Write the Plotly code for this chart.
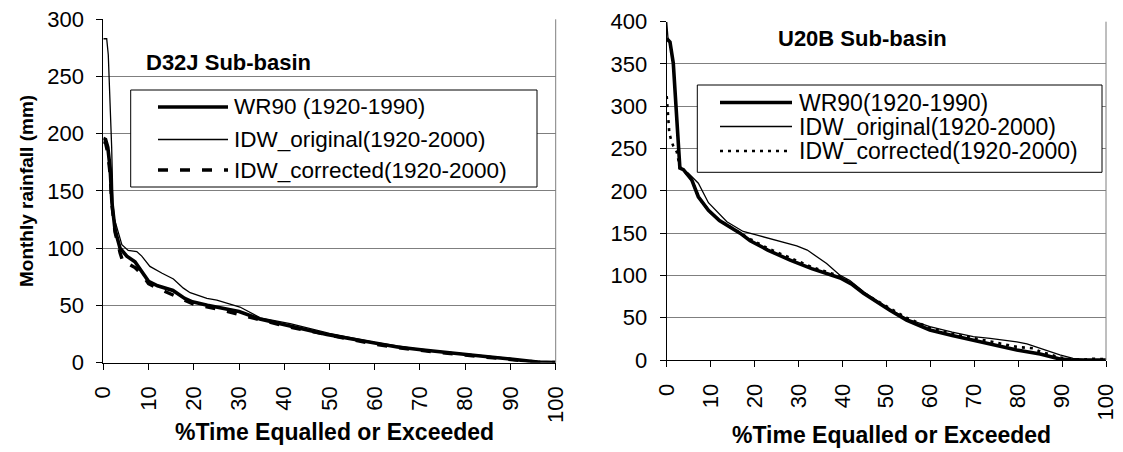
import plotly.graph_objects as go

W, H = 1123, 452
FONT = "Liberation Sans, Arial, sans-serif"

# ---------------- D32J Sub-basin ----------------
d32j_wr90_x = [0, 0.5, 1.0, 1.5, 1.9, 2.6, 3.7, 5.2, 7.0, 8.5, 10, 12, 15.4, 18, 19.7, 23, 27.3, 30, 34.6, 38, 42, 45, 49.4, 55, 59.6, 65, 70.7, 75, 80, 85, 90, 93, 96, 100]
d32j_wr90_y = [196, 195, 188, 170, 140, 116, 100, 93, 88, 80, 71, 67, 63, 56, 53, 50, 47, 44.5, 38, 35, 31.5, 29, 24.5, 20.5, 17, 13.5, 11, 9, 7, 5, 3, 1.5, 0.3, 0]

d32j_orig_x = [0, 0.75, 1.1, 1.5, 1.85, 2.2, 3.0, 4.1, 5.5, 7.4, 8.5, 10.3, 13, 15.5, 17.7, 19.2, 22.9, 25.1, 30.2, 34.7, 41.3, 50, 60, 70, 80, 90, 94, 100]
d32j_orig_y = [283, 283, 269, 231, 188, 129, 118, 103, 98, 97, 93, 84, 78, 73, 65, 61, 56, 54.5, 48.5, 39, 34, 25.5, 17.5, 11.5, 7.5, 3.5, 0.5, 0]

d32j_corr_x = [0, 0.5, 1.0, 1.5, 1.9, 2.6, 3.7, 4.4, 5.2, 7, 8.5, 10, 12, 15, 18, 20, 25, 30, 35, 40, 45, 50, 55, 60, 65, 70, 75, 80, 85, 90, 93, 96, 100]
d32j_corr_y = [193, 192, 183, 165, 138, 114, 96, 87, 87, 83, 77, 69, 65, 60, 55, 51, 47, 42, 37, 32, 28, 24, 20, 16, 13, 10.5, 8.5, 6.5, 4.5, 2.5, 1.2, 0.2, 0]

# ---------------- U20B Sub-basin ----------------
u20b_wr90_x = [0, 0.4, 0.75, 1.5, 2.3, 3.0, 3.8, 5.7, 7.2, 9.5, 12, 14.5, 16.7, 19, 23, 28.1, 33, 39.5, 42, 44.8, 48, 50.8, 54.6, 59.9, 65, 69.8, 75, 79.7, 85, 89.5, 92, 95, 100]
u20b_wr90_y = [380, 378, 376, 351, 284, 227, 225, 213, 193, 177, 165, 157, 150, 141, 130, 118, 108, 97, 90, 79, 68, 59, 47, 35.5, 29, 23.6, 17, 11.8, 7, 1.2, 0.3, 0, 0]

u20b_orig_x = [0, 0.3, 0.75, 1.5, 2.3, 3.0, 3.8, 4.9, 7.2, 9.5, 13.7, 17.4, 21, 25.8, 29.6, 32, 36.4, 39.5, 41.7, 45, 50.8, 55, 59.9, 65, 69.8, 73.6, 79.7, 82, 85, 89.5, 92.5, 95, 100]
u20b_orig_y = [400, 380, 376, 350, 282, 228, 224, 221, 209, 186, 163.5, 152, 147, 140, 135, 130, 114, 100, 94, 80, 60, 48, 39.5, 33, 27.6, 25.6, 21.5, 19, 14, 6, 2, 0.5, 0.5]

u20b_corr_x = [0, 0.3, 0.6, 1.14, 1.5, 2.3, 3.0, 3.8, 5.7, 7.2, 9.5, 12, 16.7, 19, 23, 28.1, 33, 39.5, 42, 44.8, 50.8, 54.6, 59.9, 65, 69.8, 75, 77.4, 79.7, 83.4, 85, 89.5, 92, 95, 97, 100]
u20b_corr_y = [312, 292, 268, 258, 253, 246, 228, 225, 213, 193, 177, 165, 150, 143, 132, 121, 110, 99, 91, 79, 61, 50, 38, 31, 26, 20.5, 17.7, 15.5, 13.8, 10, 3, 1, 0.5, 1.5, 1]

x_ticks = [0, 10, 20, 30, 40, 50, 60, 70, 80, 90, 100]
left_legend = ["WR90 (1920-1990)", "IDW_original(1920-2000)", "IDW_corrected(1920-2000)"]
right_legend = ["WR90(1920-1990)", "IDW_original(1920-2000)", "IDW_corrected(1920-2000)"]

# line styles (width, dash)
STY_WR90 = dict(color="black", width=3.6)
STY_ORIG = dict(color="black", width=1.3)
STY_CORR_L = dict(color="black", width=3.4, dash="10px,12px")
STY_CORR_R = dict(color="black", width=2.6, dash="3px,5px")


def px(x):
    return x / W


def py(y):
    return 1 - y / H


fig = go.Figure()

for xs, ys, sty, ax in [
    (d32j_corr_x, d32j_corr_y, STY_CORR_L, ("x", "y")),
    (d32j_orig_x, d32j_orig_y, STY_ORIG, ("x", "y")),
    (d32j_wr90_x, d32j_wr90_y, STY_WR90, ("x", "y")),
    (u20b_corr_x, u20b_corr_y, STY_CORR_R, ("x2", "y2")),
    (u20b_orig_x, u20b_orig_y, STY_ORIG, ("x2", "y2")),
    (u20b_wr90_x, u20b_wr90_y, STY_WR90, ("x2", "y2")),
]:
    fig.add_trace(go.Scatter(x=xs, y=ys, mode="lines", line=sty,
                             xaxis=ax[0], yaxis=ax[1], showlegend=False,
                             hoverinfo="skip"))

tickfont = dict(family=FONT, size=22, color="black")
xcommon = dict(range=[0, 100], tickmode="array", tickvals=x_ticks,
               ticktext=[str(v) for v in x_ticks], tickangle=-90,
               ticks="outside", ticklen=6, tickcolor="black", tickwidth=1,
               showline=True, linecolor="black", linewidth=1,
               showgrid=False, zeroline=False, tickfont=tickfont,
               ticklabelstandoff=8, automargin=False, fixedrange=True)
ycommon = dict(ticks="outside", ticklen=6, tickcolor="black", tickwidth=1,
               showline=True, linecolor="black", linewidth=1,
               showgrid=True, gridcolor="#7f7f7f", gridwidth=1,
               zeroline=False, tickfont=tickfont, ticklabelstandoff=8,
               automargin=False, fixedrange=True)

fig.update_layout(
    width=W, height=H, margin=dict(l=0, r=0, t=0, b=0, autoexpand=False),
    paper_bgcolor="white", plot_bgcolor="white", showlegend=False,
    xaxis=dict(domain=[px(103.3), px(555.7)], anchor="y", **xcommon),
    yaxis=dict(domain=[py(362.5), py(19.3)], anchor="x", range=[0, 300],
               dtick=50, **ycommon),
    xaxis2=dict(domain=[px(666.7), px(1106)], anchor="y2", **xcommon),
    yaxis2=dict(domain=[py(360), py(21.7)], anchor="x2", range=[0, 400],
                dtick=50, **ycommon),
)

shapes = []
annotations = []

# grey plot-area border on the right of each panel
for xr, yr in [("x domain", "y domain"), ("x2 domain", "y2 domain")]:
    shapes.append(dict(type="line", xref=xr, yref=yr, x0=1, x1=1, y0=0, y1=1,
                       line=dict(color="#7f7f7f", width=1)))


def add_legend(box, rows, sample_x, text_x, labels, styles, size):
    x0, y0, x1, y1 = box
    shapes.append(dict(type="rect", xref="paper", yref="paper",
                       x0=px(x0), x1=px(x1), y0=py(y1), y1=py(y0),
                       line=dict(color="black", width=1), fillcolor="white"))
    for yr, lab, sty in zip(rows, labels, styles):
        shapes.append(dict(type="line", xref="paper", yref="paper",
                           x0=px(sample_x[0]), x1=px(sample_x[1]),
                           y0=py(yr), y1=py(yr), line=sty))
        annotations.append(dict(text=lab, xref="paper", yref="paper",
                                x=px(text_x), y=py(yr), xanchor="left",
                                yanchor="middle", showarrow=False,
                                font=dict(family=FONT, size=size, color="black")))


add_legend((130.7, 90, 537, 187), [107, 139.5, 170], (158, 228), 232,
           left_legend, [STY_WR90, STY_ORIG, STY_CORR_L], 22.5)
add_legend((697.3, 85, 1102, 172.3), [102.5, 126.5, 151], (720, 792), 797,
           right_legend, [STY_WR90, STY_ORIG, STY_CORR_R], 23)

bold = dict(family=FONT, size=22, color="black")
annotations += [
    dict(text="<b>D32J Sub-basin</b>", xref="paper", yref="paper",
         x=px(144), y=py(62.5), xanchor="left", yanchor="middle",
         showarrow=False, font=bold),
    dict(text="<b>U20B Sub-basin</b>", xref="paper", yref="paper",
         x=px(776), y=py(38.5), xanchor="left", yanchor="middle",
         showarrow=False, font=bold),
    dict(text="<b>%Time Equalled or Exceeded</b>", xref="paper", yref="paper",
         x=px(334), y=py(432), xanchor="center", yanchor="middle",
         showarrow=False, font=dict(family=FONT, size=23, color="black")),
    dict(text="<b>%Time Equalled or Exceeded</b>", xref="paper", yref="paper",
         x=px(891), y=py(435), xanchor="center", yanchor="middle",
         showarrow=False, font=dict(family=FONT, size=23, color="black")),
    dict(text="<b>Monthly rainfall (mm)</b>", xref="paper", yref="paper",
         x=px(27), y=py(191), xanchor="center", yanchor="middle",
         textangle=-90, showarrow=False,
         font=dict(family=FONT, size=19, color="black")),
]

fig.update_layout(shapes=shapes, annotations=annotations)
fig.write_html("out.html")
